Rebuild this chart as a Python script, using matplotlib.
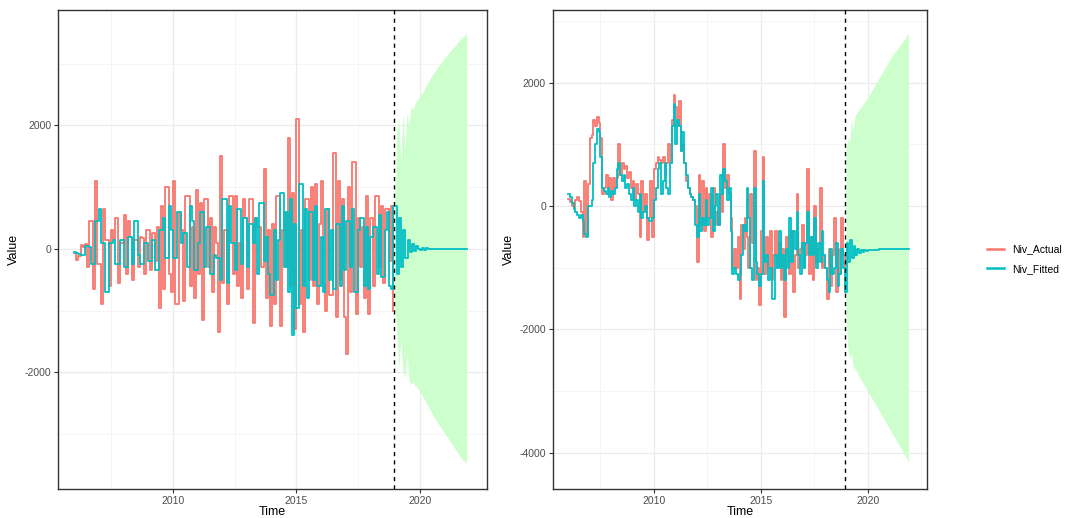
import numpy as np
import matplotlib.pyplot as plt
from matplotlib.lines import Line2D

plt.rcParams['font.family'] = ['Liberation Sans', 'DejaVu Sans']
plt.rcParams['axes.unicode_minus'] = False

# --- monthly data 2006.0 - 2018.92 ---
diff_actual = [
    -60, -180, -120, 60, 30, 80, -300, 450, 450, -650, 1100, -250,
    -250, -900, 650, 150, 150, -600, 300, 150, 500, -550, 100, 100,
    550, -400, 450, 200, -500, 150, 150, -300, 200, 180, -400, 300,
    300, -350, 250, -200, 350, -950, 700, -650, 1000, 1000, -400, -700,
    1100, -900, -900, 600, 300, -850, 850, 850, -600, 350, -800, 950,
    -400, 750, -1150, 800, 800, -300, 500, -700, 350, 100, -1350, 1500,
    -550, 300, -900, 850, 850, -400, 850, -600, 100, -800, 800, 500,
    -650, 800, 800, -1200, 500, 350, 350, -300, 1300, -800, 300, -1250,
    400, -900, 850, 850, -1250, 300, 600, -300, 1800, -600, 900, -1300,
    2100, -900, 300, -1350, 800, 800, -500, 1000, -600, 1050, -900, 400,
    1100, -600, -1000, 650, -750, -750, 1550, -1100, 1100, -500, 800, -1100,
    -1700, 1000, -700, 1400, 1400, -1050, 500, -300, 350, -800, 850, -1050,
    500, -600, 850, 850, -300, 700, -550, 650, 650, -200, 700, -1000,
]
diff_fitted = [
    -50, -60, -80, -100, -100, 50, 50, 30, -250, -250, 450, 450,
    650, 100, 100, -700, -700, 100, 100, 150, -250, -250, 150, 150,
    -300, -300, 200, 200, -250, 450, 450, -100, -250, -250, 100, 100,
    -200, -200, 150, -350, -350, 300, 300, 500, -150, -150, 700, 300,
    -150, -150, 600, 600, 100, 250, 250, -300, 700, 450, -350, -350,
    100, 600, 600, -300, 350, 350, -400, -400, -100, -150, -150, -500,
    800, 800, -550, 700, 100, 100, -350, 650, 650, -250, 500, 500,
    -300, 400, 400, 100, 500, -400, 750, 750, -200, 200, -400, -750,
    -750, 300, -500, 150, 900, 900, -300, 600, -700, 800, -1400, 400,
    -950, 1050, 1050, -600, 650, -800, 600, 600, -500, 700, -600, -600,
    200, -700, 650, 650, -500, 300, -650, 400, 400, -600, 700, -350,
    450, 450, -300, 650, -700, -700, 300, 500, 500, -600, 350, -650,
    200, 350, 350, -400, 550, -450, -450, 300, 600, -600, -650, 700,
]
level_actual = [
    120, 60, 0, -30, 100, 150, 80, -100, -500, 400, -450, 350,
    1100, 1150, 1400, 1300, 1450, 1350, 1100, 200, 300, 500, 300, 450,
    100, 450, 300, 450, 1000, 500, 700, 600, 650, 450, 550, 300,
    400, 100, 350, 200, -500, 400, -100, 200, -550, -200, 400, -500,
    600, 700, 800, 750, 700, 800, 500, 700, 1000, 700, 1400, 1800,
    1600, 1300, 1700, 900, 1000, 700, 400, 300, 200, 150, 100, 0,
    -900, 500, -300, 400, -400, 300, -200, 200, -500, 300, -300, -100,
    -300, 200, -100, 1000, 300, 500, 200, -200, -1000, -700, -1000, -500,
    -1500, -300, -700, -200, -500, -1000, 200, -600, 900, -1200, -1000, -1600,
    -400, 800, -1100, -500, -1000, -400, -1200, -800, -400, -1000, -600, -1200,
    -700, -1800, -500, -800, -1100, -400, -1400, -800, 200, -1000, -700, -300,
    -1000, -800, 600, -1100, -500, -1200, 0, -900, -700, 300, -1000, -800,
    -1000, -1500, -700, -1300, -800, -200, -1400, -700, -1100, -200, -800, -1400,
]
level_fitted = [
    200, 150, 50, -50, -100, -150, -200, -150, -250, -450, -500, 0,
    0, 100, 700, 1000, 1250, 1200, 800, 300, 250, 200, 300, 150,
    250, 200, 300, 600, 700, 500, 400, 500, 300, 350, 200, 100,
    300, 0, 100, -100, 200, -200, -100, 0, -200, -250, -250, -200,
    100, 300, 600, 700, 200, 400, 700, 300, 200, 700, 1300, 1650,
    1000, 1400, 1300, 900, 1200, 700, 500, 300, 200, 150, 100, -300,
    -500, 200, -400, -200, -300, 100, -300, -200, 300, -400, 0, 200,
    -300, 500, 200, 600, 400, 100, 300, -400, -1100, -1000, -1100, -1200,
    -1100, -800, -300, -400, 300, -200, -1000, -1200, 300, -900, -1100, -1300,
    -1100, 400, -900, -800, -1200, -1000, -1500, -1500, -800, -1000, -400, -1000,
    -800, -1200, -700, -1000, -200, -900, -400, -700, -100, -800, -1100, -600,
    -1000, -600, -100, -800, -500, -800, -200, -1000, -600, -900, -400, -800,
    -1000, -1200, -1400, -700, -1100, -1000, -600, -1300, -1100, -700, -1000, -1400,
]

# --- forecast 2019.0 - 2021.92 ---
diff_fc = [700, -400, 500, -300, 300, -150, 150, -50, 80, -40, 40, 0,
           -20, 10, -20, 10, -10, 0, 0, 0, 0, 0, 0, 0,
           0, 0, 0, 0, 0, 0, 0, 0, 0, 0, 0, 0]
diff_hi = [700, 1900, 2100, 1400, 2200, 1600, 2200, 2000, 2300, 2250, 2350, 2400,
           2450, 2500, 2550, 2620, 2680, 2740, 2790, 2840, 2890, 2940, 2990, 3030,
           3070, 3110, 3150, 3190, 3230, 3270, 3310, 3350, 3390, 3420, 3450, 3480]
diff_lo = [-1000, -1300, -1950, -1500, -2000, -2100, -1700, -2150, -2200, -2150, -2230, -2250,
           -2300, -2360, -2420, -2480, -2540, -2600, -2660, -2720, -2780, -2830, -2880, -2930,
           -2980, -3030, -3080, -3130, -3180, -3230, -3280, -3330, -3380, -3420, -3450, -3480]
level_fc = [-600, -900, -550, -850, -650, -800, -700, -760, -720, -740, -720, -730,
            -720, -720, -715, -715, -710, -710, -705, -705, -700, -700, -700, -700,
            -700, -700, -700, -700, -700, -700, -700, -700, -700, -700, -700, -700]
level_hi = [900, 1100, 1000, 1400, 1200, 1450, 1500, 1550, 1580, 1620, 1660, 1700,
            1740, 1790, 1840, 1890, 1940, 1990, 2040, 2090, 2140, 2190, 2240, 2290,
            2340, 2390, 2430, 2470, 2510, 2550, 2590, 2630, 2670, 2710, 2750, 2800]
level_lo = [-1800, -2300, -2500, -2400, -2600, -2650, -2700, -2750, -2800, -2850, -2900, -2950,
            -3000, -3050, -3100, -3150, -3200, -3250, -3300, -3350, -3400, -3450, -3500, -3550,
            -3600, -3650, -3700, -3750, -3800, -3850, -3900, -3950, -4000, -4050, -4100, -4170]

t_hist = 2006 + np.arange(len(diff_actual)) / 12
t_fc = 2019 + np.arange(len(diff_fc)) / 12

RED = "#F8766D"
CYAN = "#00BFC4"
BAND = "#ccffcc"

fig = plt.figure(figsize=(10.71, 5.18), dpi=100)
ax1 = fig.add_axes([0.0542, 0.056, 0.4005, 0.9247])
ax2 = fig.add_axes([0.5163, 0.056, 0.3492, 0.9247])


def panel(ax, actual, fitted, fc, lo, hi, ylim, xlim, yticks, yminor):
    ax.fill_between(t_fc, lo, hi, facecolor=BAND, edgecolor="none", zorder=1)
    ax.plot(t_hist, actual, color=RED, lw=1.3, drawstyle="steps-post", zorder=2)
    ax.plot(np.concatenate([t_hist, t_fc]), np.concatenate([fitted, fc]),
            color=CYAN, lw=1.3, drawstyle="steps-post", zorder=3)
    ax.axvline(2018.95, color="black", ls=(0, (3, 3)), lw=1.0, zorder=4)
    ax.set_xlim(*xlim)
    ax.set_ylim(*ylim)
    ax.set_xticks([2010, 2015, 2020])
    ax.set_xticks([2007.5, 2012.5, 2017.5, 2022.5], minor=True)
    ax.set_yticks(yticks)
    ax.set_yticks(yminor, minor=True)
    ax.grid(True, which="major", color="#ebebeb", lw=0.9, zorder=0)
    ax.grid(True, which="minor", color="#f2f2f2", lw=0.5, zorder=0)
    ax.set_axisbelow(True)
    ax.tick_params(which="major", length=3, color="#333333", labelsize=7.5,
                   labelcolor="#4d4d4d", pad=2)
    ax.tick_params(which="minor", length=0)
    for s in ax.spines.values():
        s.set_color("#333333")
        s.set_linewidth(1.0)
    ax.set_xlabel("Time", fontsize=9, labelpad=0)
    ax.set_ylabel("Value", fontsize=9, labelpad=3)


panel(ax1, diff_actual, diff_fitted, diff_fc, diff_lo, diff_hi,
      (-3890, 3870), (2005.34, 2022.72), [-2000, 0, 2000], [-3000, -1000, 1000, 3000])
panel(ax2, level_actual, level_fitted, level_fc, level_lo, level_hi,
      (-4590, 3180), (2005.28, 2022.76), [-4000, -2000, 0, 2000], [-3000, -1000, 1000, 3000])

handles = [Line2D([], [], color=RED, lw=1.8), Line2D([], [], color=CYAN, lw=1.8)]
fig.legend(handles, ["Niv_Actual", "Niv_Fitted"], loc="center left",
           bbox_to_anchor=(0.913, 0.5), frameon=False, fontsize=7.5,
           handlelength=1.6, labelspacing=0.9)

fig.savefig("out.png", dpi=100)
